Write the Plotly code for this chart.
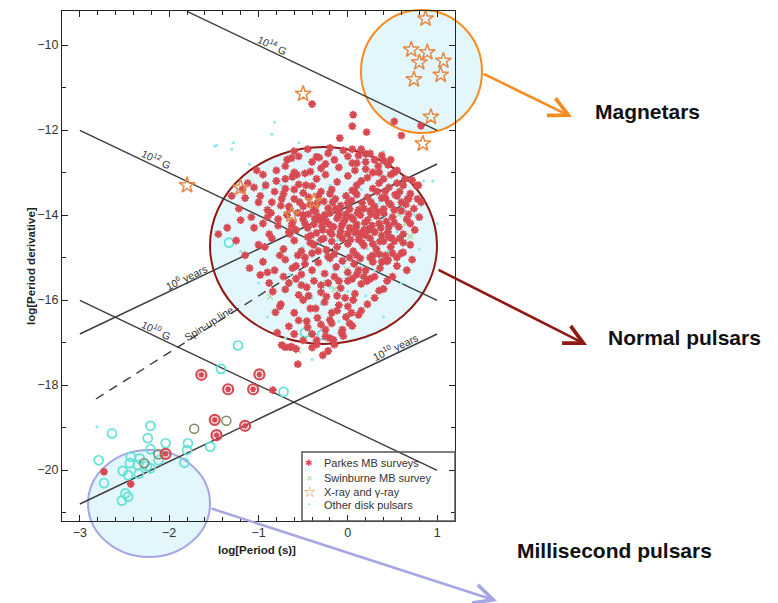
import plotly.graph_objects as go

# ---------------- data (log P [s], log Pdot) ----------------
# Parkes MB survey pulsars (normal population + a few others)
parkes_x = [
    -0.55,-0.40,-0.22,-0.05,0.12,0.30,0.45,-0.70,0.05,-0.30,0.20,0.55,
    -0.95,-0.80,-0.62,-0.48,-0.35,-0.25,-0.12,0.00,0.10,0.22,0.35,0.48,0.62,0.72,-1.05,-0.70,-0.40,-0.18,0.05,0.28,0.42,-0.55,
    -1.15,-0.98,-0.85,-0.72,-0.60,-0.50,-0.42,-0.33,-0.27,-0.20,-0.14,-0.08,-0.02,0.04,0.10,0.16,0.22,0.30,0.38,0.46,0.55,0.65,0.78,-0.65,-0.38,-0.22,-0.10,0.02,0.12,0.25,0.40,-0.50,-0.30,0.08,0.60,-0.90,
    -1.45,-1.20,-1.05,-0.90,-0.78,-0.68,-0.58,-0.50,-0.44,-0.38,-0.32,-0.28,-0.24,-0.20,-0.16,-0.12,-0.08,-0.05,-0.02,0.02,0.06,0.10,0.14,0.18,0.22,0.27,0.32,0.37,0.43,0.50,0.57,0.66,0.75,-0.35,-0.18,0.00,0.15,0.30,-0.62,-0.45,0.40,-0.10,0.08,-0.26,
    -1.00,-0.85,-0.72,-0.60,-0.52,-0.45,-0.38,-0.30,-0.24,-0.18,-0.12,-0.06,0.00,0.06,0.12,0.18,0.25,0.32,0.40,0.48,0.58,0.70,-0.40,-0.15,0.10,0.35,0.62,-0.65,0.20,
    -1.10,-0.95,-0.82,-0.70,-0.58,-0.48,-0.40,-0.33,-0.26,-0.20,-0.13,-0.06,0.00,0.07,0.14,0.20,0.28,0.36,0.45,0.55,-0.52,0.10,
    -0.88,-0.70,-0.58,-0.46,-0.38,-0.30,-0.22,-0.15,-0.08,0.00,0.08,0.15,0.25,0.35,-0.55,-0.12,
    -0.75,-0.60,-0.50,-0.42,-0.34,-0.26,-0.18,-0.10,-0.02,0.06,0.15,-0.55,0.00,
    -0.60,-0.45,-0.35,-0.25,-0.15,-0.05,-0.40,-0.22,-0.58,-0.28,
    -0.36,-0.31,-0.21,-0.14,-0.07,0.04,0.11,0.19,0.26,-0.41,-0.27,-0.09,0.03,0.16,0.28,-0.34,-0.17,0.00,0.18,0.33,-0.48,-0.29,-0.03,0.09,0.24,-0.20,0.13,-0.37,0.35,0.45,
    -0.56,-0.66,-0.75,0.52,0.46,-0.22,0.02,0.25,-0.42,-0.33,
    -0.98,-0.81,-0.76,-0.66,-0.79,-0.70,-0.63,
    0.40,0.05,-0.07,0.21,0.44,-0.20,-0.16,-0.25,
    0.77,0.67,0.53,0.48,0.46,0.49,0.36,
    -0.40,0.06,0.05,0.21,-0.09,0.52,0.82,0.60,0.05,0.20,-0.63,-0.35,0.79,0.68,
    -0.84,-0.56,-2.73,-2.43,-0.74,-0.65,
    -1.30,-1.22,-1.12,-1.08,-1.00,-0.95,-0.92,-0.86,-0.82,-0.78,-0.74,-0.70,-0.66,-0.63,-0.60,-0.57,-0.54,-0.50,-0.47,-0.44,-1.35,-1.25,-1.15,-0.93,-0.80,-0.68,-1.02,-0.88,-0.76,-1.18,
    0.20,0.28,0.34,0.40,0.46,0.52,0.58,0.64,0.70,0.74,0.68,0.60,0.52,0.62,0.70,0.80,0.55,0.42,0.33,0.26,0.15,0.08,0.82,0.48,0.38,
    0.05,0.12,0.18,0.30,0.38,0.42,0.50,0.55,0.62,0.66,0.50,0.44,0.30,0.22,0.12,0.28,0.38,0.52,0.60,0.72,
    -0.62,-0.66,-0.52,-0.44,-0.36,-0.30,-0.24,-0.18,-0.12,-0.06,0.02,-0.46,-0.40,-0.30,-0.20,-0.10,-0.03,0.04,-0.48,-0.56,-0.72,-0.84,-0.90,-0.35,-0.50,
    -0.60,-0.45,-0.32,-0.15,0.00,0.15,0.25,-0.20,-0.10,0.35,-0.42,-0.60,0.40,-0.25,0.10,
]
parkes_y = [
    -12.62,-12.75,-12.55,-12.48,-12.60,-12.70,-12.82,-12.85,-12.78,-12.90,-12.92,-12.95,
    -13.05,-13.20,-13.10,-13.02,-13.15,-13.05,-13.22,-13.08,-13.30,-13.12,-13.25,-13.05,-13.30,-13.18,-13.35,-13.38,-13.32,-13.40,-13.42,-13.38,-13.44,-13.28,
    -13.60,-13.55,-13.70,-13.50,-13.62,-13.48,-13.75,-13.55,-13.68,-13.50,-13.62,-13.78,-13.55,-13.66,-13.52,-13.72,-13.58,-13.80,-13.60,-13.72,-13.55,-13.75,-13.62,-13.85,-13.88,-13.84,-13.90,-13.86,-13.88,-13.90,-13.86,-13.80,-13.45,-13.45,-13.90,-13.88,
    -14.45,-14.12,-14.30,-14.05,-14.25,-14.00,-14.35,-14.10,-13.98,-14.22,-14.05,-14.35,-14.15,-13.95,-14.28,-14.08,-14.38,-14.18,-13.98,-14.30,-14.10,-14.22,-14.00,-14.35,-14.12,-14.25,-14.02,-14.30,-14.15,-14.05,-14.28,-14.10,-14.35,-14.42,-14.45,-14.44,-14.42,-14.40,-14.18,-14.30,-13.95,-14.00,-14.40,-14.00,
    -14.70,-14.55,-14.80,-14.60,-14.85,-14.52,-14.70,-14.58,-14.82,-14.62,-14.75,-14.55,-14.68,-14.85,-14.58,-14.72,-14.55,-14.80,-14.62,-14.75,-14.55,-14.70,-14.90,-14.92,-14.95,-14.92,-14.88,-14.45,-14.48,
    -15.25,-15.10,-15.30,-15.05,-15.20,-15.00,-15.30,-15.12,-15.38,-15.02,-15.22,-15.08,-15.35,-15.15,-15.02,-15.30,-15.10,-15.25,-15.05,-15.20,-15.40,-15.40,
    -15.60,-15.75,-15.50,-15.70,-15.55,-15.82,-15.60,-15.45,-15.72,-15.55,-15.85,-15.62,-15.50,-15.78,-15.88,-15.90,
    -16.10,-16.30,-16.00,-16.20,-16.42,-16.05,-16.30,-16.12,-16.40,-16.00,-16.25,-16.48,-16.15,
    -16.80,-16.65,-16.95,-16.70,-17.05,-16.85,-17.12,-17.20,-17.15,-17.30,
    -13.92,-14.12,-14.22,-13.85,-14.25,-14.05,-13.95,-14.18,-13.98,-14.48,-14.55,-14.48,-14.58,-14.65,-14.68,-13.72,-13.70,-13.72,-13.85,-13.92,-14.20,-14.25,-14.10,-14.30,-14.35,-14.40,-14.50,-14.08,-14.20,-14.40,
    -13.95,-14.40,-13.78,-13.88,-14.52,-14.98,-15.00,-15.00,-14.65,-14.85,
    -15.41,-16.29,-16.15,-16.62,-16.77,-17.11,-17.10,
    -15.74,-16.61,-16.77,-15.56,-15.09,-16.47,-16.94,-16.86,
    -13.31,-13.62,-13.52,-13.76,-14.27,-14.54,-14.62,
    -11.39,-11.64,-11.91,-12.05,-12.19,-11.80,-11.90,-12.13,-12.45,-12.56,-12.66,-12.63,-13.30,-13.62,
    -18.12,-17.51,-20.04,-20.33,-17.06,-17.11,
    -13.55,-13.85,-13.25,-14.05,-13.70,-14.20,-13.30,-13.95,-13.45,-14.10,-13.62,-13.15,-13.80,-14.25,-13.40,-13.05,-13.70,-14.00,-13.30,-13.58,-14.30,-14.60,-14.95,-14.75,-12.95,-12.70,-12.95,-14.45,-14.95,-13.40,
    -12.75,-13.00,-12.85,-13.15,-13.35,-13.00,-13.45,-13.15,-13.50,-13.85,-13.98,-13.70,-14.18,-14.45,-14.20,-14.05,-13.25,-13.60,-13.45,-13.70,-13.20,-12.95,-13.70,-12.70,-12.60,
    -15.50,-15.30,-15.45,-15.45,-15.10,-14.95,-14.90,-15.00,-14.65,-15.30,-15.45,-15.55,-15.95,-16.10,-16.35,-14.95,-14.48,-14.62,-14.90,-15.05,
    -15.25,-15.60,-15.65,-15.90,-16.20,-15.65,-15.92,-16.55,-16.25,-16.70,-16.55,-16.50,-16.80,-16.58,-16.90,-15.55,-15.95,-16.30,-15.15,-14.95,-15.45,-15.80,-15.35,-17.05,-16.95,
    -12.50,-12.45,-12.65,-12.70,-12.62,-12.45,-12.55,-12.42,-12.88,-13.00,-12.98,-13.00,-12.72,-12.80,-12.78,
]
# Parkes MB binary pulsars (circled)
parkes_bin_x = [-1.64,-1.34,-1.06,-0.99,-1.49,-1.47,-1.15,-2.04]
parkes_bin_y = [-17.76,-18.10,-18.10,-17.75,-18.82,-19.18,-18.96,-19.62]

# Swinburne MB survey pulsars
swin_x = [0.66,0.57,0.27,-0.87,-0.56,-0.24,-0.01,0.70,-0.15,0.65]
swin_y = [-14.19,-13.99,-15.09,-15.92,-17.19,-15.60,-15.29,-14.50,-15.75,-14.18]
swin_bin_x = [-1.72,-1.36,-2.28,-2.12]
swin_bin_y = [-19.03,-18.84,-19.84,-19.63]

# X-ray and gamma-ray pulsars (magnetars etc.)
xray_x = [0.87,0.71,0.89,0.80,1.07,0.74,1.04,0.93,0.84,-0.50,-1.80,-1.20,-0.38,-0.63]
xray_y = [-9.38,-10.11,-10.17,-10.41,-10.37,-10.81,-10.70,-11.69,-12.32,-11.15,-13.30,-13.36,-13.68,-13.99]

# Other disk pulsars
other_x = [-1.30,-1.10,-0.95,-0.75,-0.60,-0.45,-0.35,-0.25,-0.15,-0.05,0.05,0.15,0.25,0.35,0.45,0.55,0.65,0.75,0.85,
           -0.80,-0.65,-0.50,-0.40,-0.30,-0.20,-0.10,0.00,0.10,0.20,0.30,-1.20,-1.00,-0.90,-0.70,-0.40,0.40,0.60,0.80,1.00,0.95,
           -0.20,0.10,0.40,-0.55,-0.85,-1.47,-1.49,-1.28,-0.82,-2.81,-0.30,-0.12,0.06,0.22,-0.05,0.35,-0.50,0.15]
other_y = [-12.45,-12.80,-13.40,-13.30,-13.95,-13.60,-14.60,-14.95,-15.30,-15.15,-14.90,-15.20,-15.45,-15.00,-14.85,-14.40,-13.90,-14.00,-13.20,
           -14.95,-15.40,-15.60,-15.95,-16.10,-15.70,-16.50,-15.80,-16.00,-15.90,-15.30,-14.85,-15.60,-16.40,-16.90,-17.40,-16.40,-15.60,-14.80,-14.20,-13.20,
           -13.30,-12.95,-12.50,-12.30,-12.10,-12.36,-12.38,-12.30,-11.82,-18.98,-14.30,-14.60,-14.45,-14.80,-13.95,-13.70,-14.75,-13.40]
# Other disk binary pulsars (circled, mostly millisecond pulsars)
other_bin_x = [-1.23,-1.42,-0.72,-2.64,-2.21,-2.24,-2.04,-2.21,-1.79,-1.80,-1.54,-1.83,-2.12,-2.79,-2.43,-2.33,-2.44,
               -2.35,-2.25,-2.52,-2.46,-2.34,-2.21,-2.73,-2.49,-2.46,-2.53,-1.33,-0.48,-0.29]
other_bin_y = [-17.07,-17.62,-18.16,-19.14,-18.96,-19.25,-19.37,-19.51,-19.37,-19.53,-19.45,-19.83,-19.77,-19.77,-19.69,-19.73,-19.84,
               -19.88,-19.91,-20.02,-20.12,-20.09,-19.96,-20.31,-20.55,-20.63,-20.72,-14.65,-16.77,-16.82]

# Reference lines (end points)
b14_x, b14_y = [-1.80, 1.00], [-9.21, -12.01]
b12_x, b12_y = [-3.00, 1.00], [-12.01, -16.01]
b10_x, b10_y = [-3.00, 1.00], [-16.01, -20.01]
t6_x, t6_y = [-3.00, 1.00], [-16.80, -12.80]
t10_x, t10_y = [-3.00, 1.00], [-20.80, -16.80]
spin_x, spin_y = [-2.82, 0.70], [-18.33, -13.64]

x_ticks = [-3, -2, -1, 0, 1]
y_ticks = [-10, -12, -14, -16, -18, -20]

legend_labels = ["Parkes MB surveys", "Swinburne MB survey", "X-ray and \u03b3-ray", "Other disk pulsars"]

# ---------------- figure ----------------
RED = "#d84a52"
CYAN = "#62e2d6"
GREEN = "#a9dfa0"
ORANGE = "#e68a45"
LINE = "#3c3c3c"
FONT = "Arial, Liberation Sans"
fig = go.Figure()

for xs, ys, dash in [(b14_x, b14_y, "solid"), (b12_x, b12_y, "solid"), (b10_x, b10_y, "solid"),
                     (t6_x, t6_y, "solid"), (t10_x, t10_y, "solid"), (spin_x, spin_y, "9px,7px")]:
    fig.add_trace(go.Scatter(x=xs, y=ys, mode="lines", showlegend=False, hoverinfo="skip",
                             line=dict(color=LINE, width=1.4, dash=dash)))

fig.add_trace(go.Scatter(x=other_x, y=other_y, mode="markers", name=legend_labels[3], showlegend=False,
                         marker=dict(symbol="circle", size=3, color="#8aeaea")))
fig.add_trace(go.Scatter(x=other_bin_x, y=other_bin_y, mode="markers", showlegend=False,
                         marker=dict(symbol="circle-open", size=9, color=CYAN,
                                     line=dict(width=1.7, color=CYAN))))
fig.add_trace(go.Scatter(x=swin_x, y=swin_y, mode="markers", name=legend_labels[1], showlegend=False,
                         marker=dict(symbol="x-thin", size=6, color=GREEN,
                                     line=dict(width=1.3, color=GREEN))))
fig.add_trace(go.Scatter(x=swin_bin_x, y=swin_bin_y, mode="markers", showlegend=False,
                         marker=dict(symbol="circle-open", size=9, color="#7d8c62",
                                     line=dict(width=1.5, color="#7d8c62"))))
fig.add_trace(go.Scatter(x=parkes_x, y=parkes_y, mode="markers", name=legend_labels[0], showlegend=False,
                         marker=dict(symbol="asterisk", size=6.5, color=RED,
                                     line=dict(width=2.0, color=RED))))
fig.add_trace(go.Scatter(x=parkes_bin_x, y=parkes_bin_y, mode="markers", showlegend=False,
                         marker=dict(symbol="circle-open", size=10, color=RED,
                                     line=dict(width=2.2, color=RED))))
fig.add_trace(go.Scatter(x=parkes_bin_x, y=parkes_bin_y, mode="markers", showlegend=False,
                         marker=dict(symbol="asterisk", size=5, color=RED,
                                     line=dict(width=1.5, color=RED))))
fig.add_trace(go.Scatter(x=xray_x, y=xray_y, mode="markers", name=legend_labels[2], showlegend=False,
                         marker=dict(symbol="star-open", size=12, color=ORANGE,
                                     line=dict(width=1.5, color=ORANGE))))

FILL = "#e2f6fc"
shapes = [
    dict(type="circle", xref="paper", yref="paper", x0=0.3766, x1=0.9542, y0=0.3471, y1=0.7333,
         fillcolor=FILL, line=dict(color="#8e1a12", width=2), layer="below"),
    dict(type="circle", xref="paper", yref="paper", x0=0.7608, x1=1.0687, y0=0.7608, y1=1.002,
         fillcolor=FILL, line=dict(color="#f68b1f", width=2), layer="below"),
    dict(type="circle", xref="paper", yref="paper", x0=0.0662, x1=0.3766, y0=-0.0706, y1=0.1392,
         fillcolor=FILL, line=dict(color="#a6a6e4", width=2), layer="below"),
    # legend frame
    dict(type="rect", xref="paper", yref="paper", x0=0.6107, x1=1.0, y0=0.0, y1=0.1353,
         fillcolor="rgba(0,0,0,0)", line=dict(color="#555", width=1.5), layer="above"),
]

ann = []
lab_font = dict(family=FONT, size=10.5, color="#333")
for txt, x, y, ang in [("10<sup>14</sup> G", -0.84, -9.99, 25.4), ("10<sup>12</sup> G", -2.14, -12.67, 25.4),
                       ("10<sup>10</sup> G", -2.14, -16.70, 25.4), ("10<sup>6</sup> years", -1.81, -15.45, -25.4),
                       ("Spin-up line", -1.55, -16.54, -32.4), ("10<sup>10</sup> years", 0.53, -17.10, -25.4)]:
    ann.append(dict(text=txt, x=x, y=y, xref="x", yref="y", showarrow=False, textangle=ang, font=lab_font,
                    xanchor="center", yanchor="middle"))

# axis titles
ann.append(dict(text="<b>log[Period (s)]</b>", x=0.496, y=-0.057, xref="paper", yref="paper",
                xanchor="center", yanchor="middle",
                showarrow=False, font=dict(family=FONT, size=11.5, color="#222")))
ann.append(dict(text="<b>log[Period derivative]</b>", x=-0.079, y=0.5, xref="paper", yref="paper",
                xanchor="center", yanchor="middle",
                showarrow=False, textangle=-90, font=dict(family=FONT, size=11.5, color="#222")))

# legend entries (drawn manually to match the compact box)
leg_rows = [0.1137, 0.0843, 0.0569, 0.0314]
leg_glyphs = [("\u2731", RED, 9), ("\u2715", GREEN, 8), ("\u2606", ORANGE, 15), ("\u2022", "#8aeaea", 7)]
for lab, (g, c, s), yy in zip(legend_labels, leg_glyphs, leg_rows):
    ann.append(dict(text=g, x=0.6285, y=yy, xref="paper", yref="paper", xanchor="center", yanchor="middle",
                    showarrow=False, font=dict(family="DejaVu Sans", size=s, color=c)))
    ann.append(dict(text=lab, x=0.6616, y=yy, xref="paper", yref="paper", xanchor="left", yanchor="middle",
                    showarrow=False, font=dict(family=FONT, size=11, color="#333")))

# callout arrows
for col, hx, hy, ax, ay in [("#f68b1f", 1.298, 0.792, -90, -44),
                            ("#8e1a12", 1.336, 0.345, -150, -76),
                            ("#a6a6e4", 1.107, -0.157, -287, -93)]:
    ann.append(dict(text="", x=hx, y=hy, xref="paper", yref="paper", ax=ax, ay=ay, axref="pixel", ayref="pixel",
                    showarrow=True, arrowhead=5, arrowsize=1.5, arrowwidth=2.5, arrowcolor=col, standoff=0))
big = dict(family=FONT, size=21, color="#111")
for txt, x, y in [("<b>Magnetars</b>", 1.351, 0.802), ("<b>Normal pulsars</b>", 1.384, 0.359),
                  ("<b>Millisecond pulsars</b>", 1.153, -0.0588)]:
    ann.append(dict(text=txt, x=x, y=y, xref="paper", yref="paper", xanchor="left", yanchor="middle",
                    showarrow=False, font=big))

axis_common = dict(showline=True, linecolor="#222", linewidth=1.3, mirror="ticks", ticks="inside",
                   ticklen=6, tickwidth=1.1, tickcolor="#222", showgrid=False, zeroline=False,
                   tickfont=dict(family=FONT, size=12.5, color="#333"))
# The page body adds an 8px margin, so the figure is 8px smaller and shifted accordingly.
fig.update_layout(
    width=770, height=595,
    margin=dict(l=54, r=323, t=3, b=82),
    paper_bgcolor="white", plot_bgcolor="rgba(0,0,0,0)",
    shapes=shapes, annotations=ann,
    xaxis=dict(range=[-3.2, 1.2], tickvals=x_ticks,
               minor=dict(dtick=0.2, ticks="inside", ticklen=4, tickcolor="#222", tickwidth=1), **axis_common),
    yaxis=dict(range=[-21.2, -9.2], tickvals=y_ticks,
               minor=dict(dtick=1, ticks="inside", ticklen=4, tickcolor="#222", tickwidth=1), **axis_common),
    showlegend=False,
)

fig.write_html("out.html")
